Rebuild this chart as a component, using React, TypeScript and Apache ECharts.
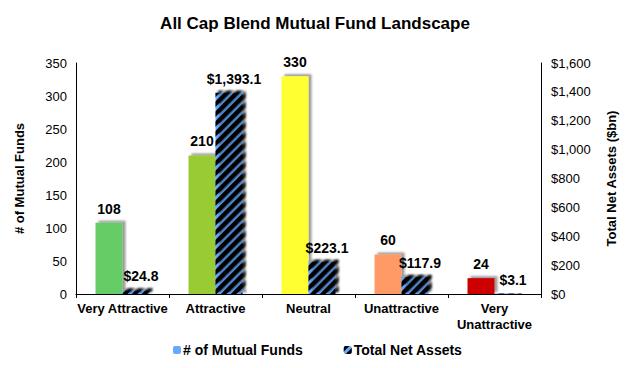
import React, { useEffect, useRef } from "react";
import * as echarts from "echarts";

const categories = ["Very Attractive", "Attractive", "Neutral", "Unattractive", "Very\nUnattractive"];
const fundCounts = [108, 210, 330, 60, 24];
const netAssets = [24.8, 1393.1, 223.1, 117.9, 3.1];
const fundColors = ["#66cc66", "#99cc33", "#ffff33", "#ff9966", "#cc0000"];
const leftTicks = { min: 0, max: 350, interval: 50 };
const rightTicks = { min: 0, max: 1600, interval: 200 };

const FONT = "Liberation Sans, Arial, sans-serif";

const fmtMoney = (v: number) =>
  "$" + v.toLocaleString("en-US", { minimumFractionDigits: 1, maximumFractionDigits: 1 });

export default function App() {
  const ref = useRef<HTMLDivElement>(null);
  useEffect(() => {
    if (!ref.current) return;
    const chart = echarts.init(ref.current, null, { renderer: "svg" });
    const shadow = {
      shadowColor: "rgba(0,0,0,0.4)",
      shadowBlur: 2,
      shadowOffsetX: 3,
      shadowOffsetY: -2,
    };
    chart.setOption({
      animation: false,
      backgroundColor: "#ffffff",
      textStyle: { fontFamily: FONT, color: "#000" },
      title: {
        text: "All Cap Blend Mutual Fund Landscape",
        left: "center",
        top: 10,
        textStyle: { fontFamily: FONT, fontSize: 17, fontWeight: "bold", color: "#000" },
      },
      legend: {
        bottom: 6,
        left: 168,
        itemGap: 41,
        itemWidth: 8,
        itemHeight: 8,
        textStyle: { fontFamily: FONT, fontSize: 14, fontWeight: "bold", color: "#000", padding: [0, 0, 0, -3] },
        data: ["# of Mutual Funds", "Total Net Assets"],
      },
      grid: { left: 76, right: 89, top: 63, bottom: 74 },
      xAxis: {
        type: "category",
        data: categories,
        axisLine: { lineStyle: { color: "#000", width: 1 } },
        axisTick: { show: true, alignWithLabel: false, length: 4, lineStyle: { color: "#000" } },
        axisLabel: {
          interval: 0,
          fontFamily: FONT,
          fontSize: 13,
          fontWeight: "bold",
          color: "#000",
          margin: 6,
          lineHeight: 16,
        },
      },
      yAxis: [
        {
          type: "value",
          ...leftTicks,
          name: "# of Mutual Funds",
          nameLocation: "middle",
          nameGap: 50,
          nameTextStyle: { fontFamily: FONT, fontSize: 13, fontWeight: "bold", color: "#000" },
          axisLine: { show: true, lineStyle: { color: "#000" } },
          axisTick: { show: false },
          splitLine: { show: false },
          axisLabel: { fontFamily: FONT, fontSize: 13, color: "#000", margin: 9 },
        },
        {
          type: "value",
          ...rightTicks,
          name: "Total Net Assets ($bn)",
          nameLocation: "middle",
          nameGap: 64,
          nameRotate: 90,
          nameTextStyle: { fontFamily: FONT, fontSize: 13, fontWeight: "bold", color: "#000" },
          axisLine: { show: true, lineStyle: { color: "#000" } },
          axisTick: { show: false },
          splitLine: { show: false },
          axisLabel: {
            fontFamily: FONT,
            fontSize: 13,
            color: "#000",
            margin: 10,
            formatter: (v: number) => "$" + v.toLocaleString("en-US"),
          },
        },
      ],
      series: [
        {
          name: "# of Mutual Funds",
          type: "bar",
          yAxisIndex: 0,
          barWidth: 27,
          barGap: "0%",
          itemStyle: { color: "#66aaff", ...shadow },
          data: fundCounts.map((v, i) => ({ value: v, itemStyle: { color: fundColors[i], ...shadow } })),
          label: {
            show: true,
            position: "top",
            distance: 7,
            fontFamily: FONT,
            fontSize: 14,
            fontWeight: "bold",
            color: "#000",
          },
        },
        {
          name: "Total Net Assets",
          type: "bar",
          yAxisIndex: 1,
          barWidth: 27,
          barGap: "0%",
          itemStyle: {
            color: "#66aaff",
            ...shadow,
            decal: {
              symbol: "rect",
              symbolSize: 1,
              dashArrayX: [1, 0],
              dashArrayY: [3.5, 2.5],
              rotation: -Math.PI / 4,
              color: "#000",
            },
          },
          data: netAssets,
          label: {
            show: true,
            position: "top",
            distance: 7,
            offset: [5, 0],
            fontFamily: FONT,
            fontSize: 14,
            fontWeight: "bold",
            color: "#000",
            formatter: (p: any) => fmtMoney(p.value),
          },
        },
      ],
    });
    return () => chart.dispose();
  }, []);
  return <div ref={ref} style={{ width: 630, height: 368, margin: -8 }} />;
}
